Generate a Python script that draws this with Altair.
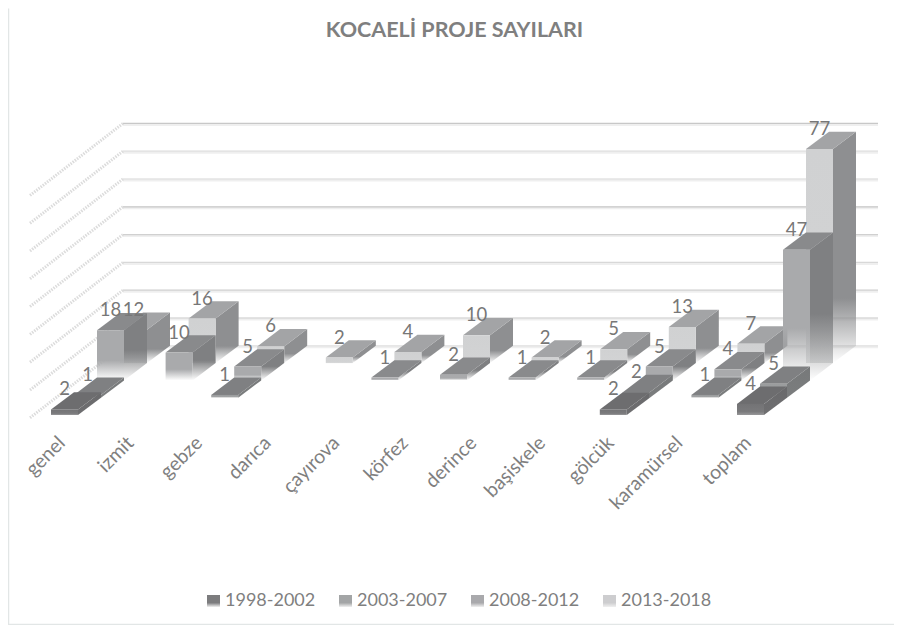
import altair as alt
import pandas as pd

categories = ["genel", "izmit", "gebze", "darıca", "çayırova", "körfez",
              "derince", "başiskele", "gölcük", "karamürsel", "toplam"]
series_names = ["1998-2002", "2003-2007", "2008-2012", "2013-2018"]
v1998 = [2, None, None, None, None, None, None, None, 2, None, 4]
v2003 = [1, None, 1, None, None, None, None, None, 2, 1, 5]
v2008 = [18, 10, 5, None, 1, 2, 1, 1, 5, 4, 47]
v2013 = [12, 16, 6, 2, 4, 10, 2, 5, 13, 7, 77]
series_values = [v1998, v2003, v2008, v2013]
grid_ticks = [0, 10, 20, 30, 40, 50, 60, 70, 80]
grid_tones = ["#e2e2e2", "#d0d0d0", "#d2d2d2", "#d8d8d8", "#d0d0d0",
              "#c8c8c8", "#dedede", "#e0e0e0", "#c8c8c8"]

W, H = 886, 617
FONT = "Lato"
TXT = "#7f7f7f"

# oblique projection of the 3-D category/series/value space onto the page
CAT_STEP, BAR_W, DEPTH_X, DEPTH_Y, UNIT = 68.6, 27, 23, 17.3, 2.78
ORIGIN_X, ORIGIN_Y = 51, 415


def front_left(cat, row):
    return ORIGIN_X + CAT_STEP * cat + DEPTH_X * row


def base_y(row):
    return ORIGIN_Y - DEPTH_Y * row


xs = alt.Scale(domain=[8, 8 + W], range=[0, W])
ys = alt.Scale(domain=[8, 8 + H], range=[0, H])
X = lambda f: alt.X(f, type="quantitative", scale=xs, axis=None)
Y = lambda f: alt.Y(f, type="quantitative", scale=ys, axis=None)


def grad(stops):
    return alt.LinearGradient(
        gradient="linear", x1=0, x2=0, y1=0, y2=1,
        stops=[alt.GradientStop(offset=o, color=c) for o, c in stops])


front_fill = [
    grad([(0, "#737375"), (0.7, "#7a7a7c"), (1, "#98989a")]),
    grad([(0, "#9a9c9d"), (0.6, "#a0a2a3"), (1, "#d8d8d8")]),
    grad([(0, "#a9aaac"), (0.6, "#a9aaac"), (1, "rgba(169,170,172,0)")]),
    grad([(0, "#d0d1d2"), (0.85, "#d2d3d4"), (1, "#e0e1e1")]),
]
side_fill = [
    grad([(0, "#69696b"), (1, "#6f6f71")]),
    grad([(0, "#77797a"), (1, "#7b7d7e")]),
    grad([(0, "#7f8082"), (0.55, "#7f8082"), (1, "rgba(127,128,130,0)")]),
    grad([(0, "#8e8f91"), (0.72, "#8e8f91"), (1, "rgba(142,143,145,0)")]),
]
top_fill = ["#6d6d6f", "#7f8082", "#898a8c", "#a3a4a6"]

layers = []

# back wall and side wall gridlines
back, wall = [], []
for v, tone in zip(grid_ticks, grid_tones):
    yb = ORIGIN_Y - DEPTH_Y * 4 - v * UNIT
    back += [{"id": v, "x": 123, "y": yb, "tone": tone},
             {"id": v, "x": 878, "y": yb, "tone": tone}]
    wall += [{"id": v, "x": 123, "y": yb},
             {"id": v, "x": 30, "y": yb + 72}]
back, wall = pd.DataFrame(back), pd.DataFrame(wall)
layers.append(alt.Chart(back).mark_line(color="#efefef", strokeWidth=3).encode(
    x=X("x"), y=alt.Y("yy:Q", scale=ys, axis=None), detail="id:N"
).transform_calculate(yy="datum.y + 1"))
layers.append(alt.Chart(back).mark_line(strokeWidth=1.2).encode(
    x=X("x"), y=Y("y"), detail="id:N", color=alt.Color("tone:N", scale=None)))
layers.append(alt.Chart(wall).mark_line(
    color="#dcdcdc", strokeWidth=3, strokeDash=[1.5, 1.2]).encode(
    x=X("x"), y=Y("y"), detail="id:N"))

# bars, painted from the back row to the front row
labels = []
for row in [3, 2, 1, 0]:
    fr, sd, tp = [], [], []
    for c, val in enumerate(series_values[row]):
        if val is None:
            continue
        x0, yb = front_left(c, row), base_y(row)
        yt = yb - val * UNIT
        bid = f"{row}-{c}"
        fr.append({"id": bid, "x": x0, "x2": x0 + BAR_W, "y": yt, "y2": yb})
        sd += [{"id": bid, "x": x0 + BAR_W, "y": yt, "y2": yb},
               {"id": bid, "x": x0 + BAR_W + DEPTH_X, "y": yt - DEPTH_Y, "y2": yb - DEPTH_Y}]
        tp += [{"id": bid, "y": yt, "x": x0, "x2": x0 + BAR_W},
               {"id": bid, "y": yt - DEPTH_Y, "x": x0 + DEPTH_X, "x2": x0 + BAR_W + DEPTH_X}]
        labels.append({"x": x0 + 13.5, "y": yt - 20, "t": str(val)})
    layers.append(alt.Chart(pd.DataFrame(sd)).mark_area(
        orient="vertical", color=side_fill[row]).encode(
        x=X("x"), y=Y("y"), y2="y2:Q", detail="id:N"))
    layers.append(alt.Chart(pd.DataFrame(tp)).mark_area(
        orient="horizontal", color=top_fill[row]).encode(
        y=Y("y"), x=X("x"), x2="x2:Q", detail="id:N"))
    layers.append(alt.Chart(pd.DataFrame(fr)).mark_rect(
        color=front_fill[row]).encode(
        x=X("x"), x2="x2:Q", y=Y("y"), y2="y2:Q", detail="id:N"))

layers.append(alt.Chart(pd.DataFrame(labels)).mark_text(
    font=FONT, fontSize=18.5, color="#777777", align="center", baseline="middle").encode(
    x=X("x"), y=Y("y"), text="t:N"))

# category labels
cat_df = pd.DataFrame({"t": categories,
                       "x": [62 + CAT_STEP * i for i in range(len(categories))],
                       "y": [440] * len(categories)})
layers.append(alt.Chart(cat_df).mark_text(
    font=FONT, fontSize=19.5, color=TXT, align="right", baseline="middle", angle=315).encode(
    x=X("x"), y=Y("y"), text="t:N"))

# legend
legend_x = [207, 339, 471, 603]
legend_tone = ["#7c7c7e", "#a3a5a6", "#a9a9ac", "#cdcdcf"]
for name, lx, tone in zip(series_names, legend_x, legend_tone):
    one = pd.DataFrame({"t": [name], "x": [lx], "x2": [lx + 13], "y": [595], "y2": [607],
                        "tx": [lx + 18], "ty": [601]})
    layers.append(alt.Chart(one).mark_rect(
        color=grad([(0, tone), (0.65, tone), (1, "#f0f0f0")])).encode(
        x=X("x"), x2="x2:Q", y=Y("y"), y2="y2:Q"))
    layers.append(alt.Chart(one).mark_text(
        font=FONT, fontSize=18, color=TXT, align="left", baseline="middle").encode(
        x=X("tx"), y=Y("ty"), text="t:N"))

# chart frame
frame = pd.DataFrame({"x": [8.5, 8.5, 894], "y": [8.5, 624.5, 624.5], "o": [0, 1, 2]})
layers.append(alt.Chart(frame).mark_line(color="#e2e6e6", strokeWidth=1.5).encode(
    x=X("x"), y=Y("y"), order="o:O"))

chart = alt.layer(*layers).properties(
    width=W, height=H, padding=0,
    autosize=alt.AutoSizeParams(type="none"),
    background="white",
    title=alt.TitleParams(
        "KOCAELİ PROJE SAYILARI", anchor="middle", font=FONT, fontSize=21.5,
        fontWeight="bold", color=TXT, dy=36, dx=3.5, offset=0),
).configure_view(stroke=None)

chart.save("out.html", embed_options={"renderer": "svg", "actions": False})
